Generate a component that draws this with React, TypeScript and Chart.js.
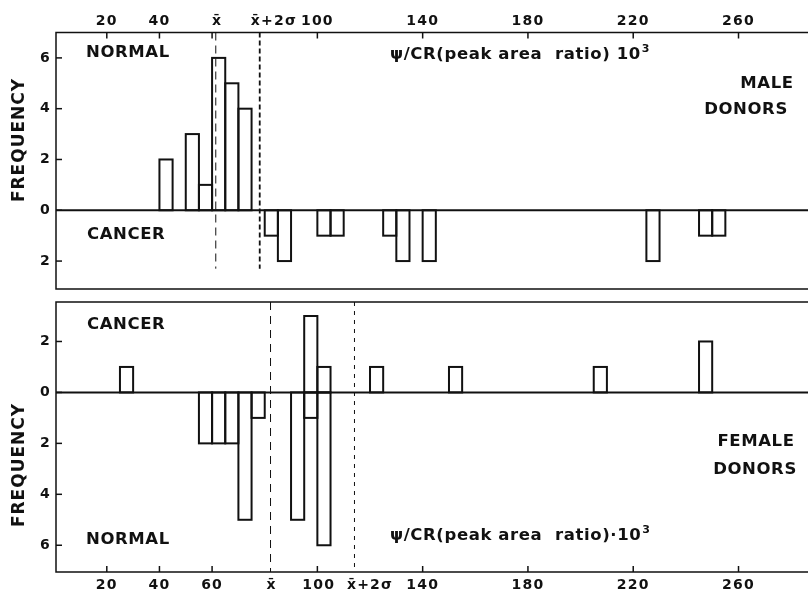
import React, { useEffect, useRef } from 'react';
import { Chart, registerables } from 'chart.js';

Chart.register(...registerables);

// Histogram bin width (ψ/CR peak area ratio ·10³)
const BIN_WIDTH = 5;

// MALE DONORS (upper panel): NORMAL above the axis, CANCER below
const maleNormalBins = [40, 50, 55, 60, 65, 70];
const maleNormalFreq = [2, 3, 1, 6, 5, 4];
const maleCancerBins = [80, 85, 100, 105, 125, 130, 140, 225, 245, 250];
const maleCancerFreq = [1, 2, 1, 1, 1, 2, 2, 2, 1, 1];
const maleMean = 61.4;
const maleMeanPlus2Sd = 78.1;

// FEMALE DONORS (lower panel): CANCER above the axis, NORMAL below
const femaleCancerBins = [25, 95, 100, 120, 150, 205, 245];
const femaleCancerFreq = [1, 3, 1, 1, 1, 1, 2];
const femaleNormalBins = [55, 60, 65, 70, 75, 90, 95, 100];
const femaleNormalFreq = [2, 2, 2, 5, 1, 5, 1, 6];
const femaleMean = 82.2;
const femaleMeanPlus2Sd = 114.1;

// Axes
const X_MIN = 0.7;
const X_MAX = 286.4;
const xTickMarks = [20, 40, 60, 100, 140, 180, 220, 260];
const topXLabelValues = [20, 40, 61.9, 83.5, 100, 140, 180, 220, 260];
const topXLabels = ['20', '40', 'x\u0304', 'x\u0304+2σ', '100', '140', '180', '220', '260'];
const bottomXLabelValues = [20, 40, 60, 82.6, 100.5, 120, 140, 180, 220, 260];
const bottomXLabels = ['20', '40', '60', 'x\u0304', '100', 'x\u0304+2σ', '140', '180', '220', '260'];
const topYTicks = [-2, 0, 2, 4, 6];
const bottomYTicks = [-6, -4, -2, 0, 2];

const INK = '#111';
const FONT_FAMILY = '"DejaVu Sans", "Liberation Sans", sans-serif';

type TextItem = { t: string; x: number; y: number; align?: CanvasTextAlign; sup?: string; size?: number };
type MeanLine = { value: number; dash: number[]; width: number; yEnd?: number };

type PanelParams = {
  position: 'top' | 'bottom';
  offsetTop: number;
  padding: { top: number; bottom: number };
  axisHeight: number;
  yMin: number;
  yMax: number;
  yTicks: number[];
  labelValues: number[];
  labels: string[];
  upBins: number[];
  upFreq: number[];
  downBins: number[];
  downFreq: number[];
  means: MeanLine[];
  texts: TextItem[];
  freqY: number;
};

function makeDatasets(p: PanelParams) {
  const base = {
    backgroundColor: '#ffffff',
    borderWidth: 0,
    barPercentage: 1,
    categoryPercentage: 1,
    grouped: false,
  };
  return [
    { ...base, data: p.upBins.map((b, i) => ({ x: b + BIN_WIDTH / 2, y: p.upFreq[i] })) },
    { ...base, data: p.downBins.map((b, i) => ({ x: b + BIN_WIDTH / 2, y: -p.downFreq[i] })) },
  ];
}

function drawLabel(ctx: CanvasRenderingContext2D, item: TextItem, offsetTop: number) {
  const size = item.size ?? 16.5;
  ctx.font = `bold ${size}px ${FONT_FAMILY}`;
  (ctx as any).letterSpacing = '0.6px';
  ctx.textBaseline = 'middle';
  ctx.textAlign = item.align ?? 'left';
  const y = item.y - offsetTop;
  ctx.fillText(item.t, item.x, y);
  if (item.sup) {
    const w = ctx.measureText(item.t).width;
    ctx.font = `bold ${Math.round(size * 0.65)}px ${FONT_FAMILY}`;
    ctx.textAlign = 'left';
    ctx.fillText(item.sup, item.x + w + 1, y - 6);
  }
}

function makePlugin(p: PanelParams) {
  return {
    id: 'panelDecor' + p.position,
    beforeDraw(chart: any) {
      chart.ctx.letterSpacing = '1.2px';
    },
    afterDraw(chart: any) {
      const ctx: CanvasRenderingContext2D = chart.ctx;
      const a = chart.chartArea;
      const xs = chart.scales.x;
      const ys = chart.scales.y;
      const line = (x1: number, y1: number, x2: number, y2: number) => {
        ctx.beginPath();
        ctx.moveTo(x1, y1);
        ctx.lineTo(x2, y2);
        ctx.stroke();
      };
      ctx.save();
      (ctx as any).letterSpacing = '0px';
      ctx.strokeStyle = INK;
      ctx.fillStyle = INK;

      // bar outlines (from the library's bar elements)
      ctx.lineWidth = 2;
      chart.data.datasets.forEach((_: any, di: number) => {
        chart.getDatasetMeta(di).data.forEach((el: any) => {
          const { x, y, base, width } = el.getProps(['x', 'y', 'base', 'width'], true);
          ctx.strokeRect(x - width / 2, Math.min(y, base), width, Math.abs(base - y));
        });
      });

      // zero line
      ctx.lineWidth = 2;
      const y0 = ys.getPixelForValue(0);
      line(a.left, y0, a.right, y0);

      // frame
      ctx.lineWidth = 1.5;
      ctx.beginPath();
      ctx.moveTo(a.right, a.top);
      ctx.lineTo(a.left, a.top);
      ctx.lineTo(a.left, a.bottom);
      ctx.lineTo(a.right, a.bottom);
      ctx.stroke();

      // inward tick marks
      const tl = 6;
      xTickMarks.forEach((v) => {
        const px = xs.getPixelForValue(v);
        if (p.position === 'top') line(px, a.top, px, a.top + tl);
        else line(px, a.bottom, px, a.bottom - tl);
      });
      p.yTicks.forEach((v) => {
        const py = ys.getPixelForValue(v);
        line(a.left, py, a.left + tl, py);
      });

      // mean and mean+2σ dashed lines
      p.means.forEach((m) => {
        ctx.setLineDash(m.dash);
        ctx.lineWidth = m.width;
        const px = xs.getPixelForValue(m.value);
        const yEnd = m.yEnd !== undefined ? ys.getPixelForValue(m.yEnd) : a.bottom;
        line(px, a.top, px, yEnd);
      });
      ctx.setLineDash([]);

      // annotations
      p.texts.forEach((t) => drawLabel(ctx, t, p.offsetTop));

      // FREQUENCY axis title
      ctx.save();
      ctx.translate(20, p.freqY - p.offsetTop);
      ctx.rotate(-Math.PI / 2);
      ctx.font = `bold 17px ${FONT_FAMILY}`;
      (ctx as any).letterSpacing = '1px';
      ctx.textAlign = 'center';
      ctx.textBaseline = 'middle';
      ctx.fillText('FREQUENCY', 0, 0);
      ctx.restore();

      ctx.restore();
    },
  };
}

function buildConfig(p: PanelParams): any {
  const tickFont = { family: FONT_FAMILY, size: 14, weight: 'bold' as const };
  return {
    type: 'bar',
    data: { datasets: makeDatasets(p) },
    plugins: [makePlugin(p)],
    options: {
      animation: false,
      responsive: false,
      maintainAspectRatio: false,
      events: [],
      layout: { padding: { top: p.padding.top, bottom: p.padding.bottom, left: 0, right: 0 } },
      plugins: { legend: { display: false }, tooltip: { enabled: false }, title: { display: false } },
      scales: {
        x: {
          type: 'linear',
          position: p.position,
          offset: false,
          min: X_MIN,
          max: X_MAX,
          grid: { display: false, drawTicks: false, offset: false },
          border: { display: false },
          ticks: {
            autoSkip: false,
            maxRotation: 0,
            color: INK,
            font: tickFont,
            padding: p.position === 'top' ? 3 : 5,
            callback: (_v: number, i: number) => p.labels[i],
          },
          afterBuildTicks: (s: any) => {
            s.ticks = p.labelValues.map((v) => ({ value: v }));
          },
          afterFit: (s: any) => {
            s.height = p.axisHeight;
            s.paddingLeft = 0;
            s.paddingRight = 0;
          },
        },
        y: {
          type: 'linear',
          position: 'left',
          min: p.yMin,
          max: p.yMax,
          grid: { display: false, drawTicks: false },
          border: { display: false },
          ticks: {
            autoSkip: false,
            color: INK,
            font: tickFont,
            padding: 5,
            callback: (v: number) => String(Math.abs(v)),
          },
          afterBuildTicks: (s: any) => {
            s.ticks = p.yTicks.map((v) => ({ value: v }));
          },
          afterFit: (s: any) => {
            s.width = 56;
            s.paddingTop = 0;
            s.paddingBottom = 0;
          },
        },
      },
    },
  };
}

const topPanel: PanelParams = {
  position: 'top',
  offsetTop: 0,
  padding: { top: 0, bottom: 3 },
  axisHeight: 32.5,
  yMin: -3.1,
  yMax: 7,
  yTicks: topYTicks,
  labelValues: topXLabelValues,
  labels: topXLabels,
  upBins: maleNormalBins,
  upFreq: maleNormalFreq,
  downBins: maleCancerBins,
  downFreq: maleCancerFreq,
  means: [
    { value: maleMean, dash: [8, 5], width: 1, yEnd: -2.3 },
    { value: maleMeanPlus2Sd, dash: [5, 3], width: 1.8, yEnd: -2.3 },
  ],
  texts: [
    { t: 'NORMAL', x: 86, y: 53 },
    { t: 'ψ/CR(peak area  ratio) 10', sup: '3', x: 390, y: 55 },
    { t: 'MALE', x: 767, y: 84, align: 'center' },
    { t: 'DONORS', x: 746, y: 110, align: 'center' },
    { t: 'CANCER', x: 87, y: 235 },
  ],
  freqY: 140,
};

const bottomPanel: PanelParams = {
  position: 'bottom',
  offsetTop: 295,
  padding: { top: 7, bottom: 0 },
  axisHeight: 21,
  yMin: -7.05,
  yMax: 3.55,
  yTicks: bottomYTicks,
  labelValues: bottomXLabelValues,
  labels: bottomXLabels,
  upBins: femaleCancerBins,
  upFreq: femaleCancerFreq,
  downBins: femaleNormalBins,
  downFreq: femaleNormalFreq,
  means: [
    { value: femaleMean, dash: [8, 6], width: 1 },
    { value: femaleMeanPlus2Sd, dash: [4, 5], width: 1 },
  ],
  texts: [
    { t: 'CANCER', x: 87, y: 325 },
    { t: 'FEMALE', x: 756, y: 442, align: 'center' },
    { t: 'DONORS', x: 755, y: 470, align: 'center' },
    { t: 'NORMAL', x: 86, y: 540 },
    { t: 'ψ/CR(peak area  ratio)·10', sup: '3', x: 390, y: 536 },
  ],
  freqY: 465,
};

export default function App() {
  const topRef = useRef<HTMLCanvasElement>(null);
  const botRef = useRef<HTMLCanvasElement>(null);

  useEffect(() => {
    const c1 = new Chart(topRef.current as HTMLCanvasElement, buildConfig(topPanel));
    const c2 = new Chart(botRef.current as HTMLCanvasElement, buildConfig(bottomPanel));
    return () => {
      c1.destroy();
      c2.destroy();
    };
  }, []);

  return (
    <div style={{ position: 'fixed', left: 0, top: 0, width: 808, height: 593, background: '#fff', overflow: 'hidden' }}>
      <canvas ref={topRef} width={808} height={292} style={{ position: 'absolute', left: 0, top: 0, width: 808, height: 292 }} />
      <canvas ref={botRef} width={808} height={298} style={{ position: 'absolute', left: 0, top: 295, width: 808, height: 298 }} />
    </div>
  );
}
